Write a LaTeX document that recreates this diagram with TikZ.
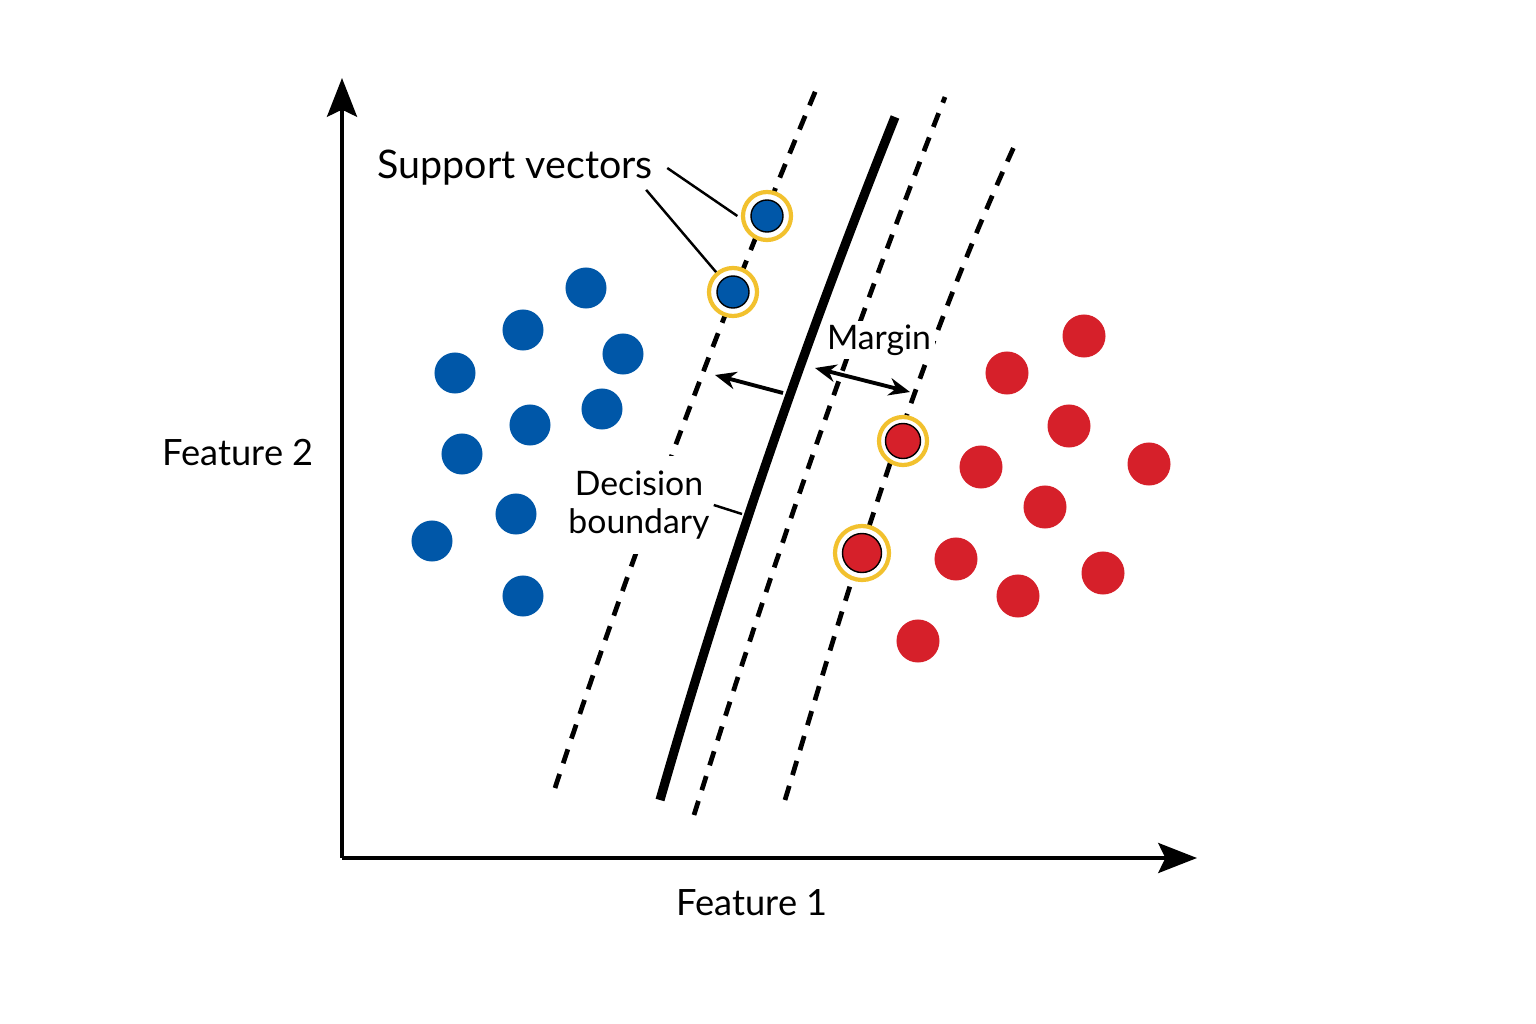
\documentclass[tikz,border=0pt]{standalone}
\usepackage{fontspec}
\setmainfont{Lato}
\usetikzlibrary{arrows.meta}
\definecolor{svmblue}{HTML}{0057A8}
\definecolor{svmred}{HTML}{D6202A}
\definecolor{svmgold}{HTML}{F2C12E}

\begin{document}
\begin{tikzpicture}[x=0.01cm, y=-0.01cm, >={Stealth[length=6pt,width=5pt]},
    blue dot/.style={circle, fill=svmblue, inner sep=0pt, minimum size=0.41cm},
    red dot/.style={circle, fill=svmred, inner sep=0pt, minimum size=0.43cm},
    sv blue/.style={circle, fill=svmblue, draw=black, thin, inner sep=0pt, minimum size=0.32cm},
    sv red/.style={circle, fill=svmred, draw=black, thin, inner sep=0pt, minimum size=0.35cm},
    ring/.style={circle, draw=svmgold, line width=1.2pt, fill=white, inner sep=0pt, minimum size=0.48cm},
    big ring/.style={ring, minimum size=0.54cm},
    axis/.style={line width=1.2pt, -{Stealth[length=11pt,width=8.5pt,inset=2pt]}},
    margin line/.style={line width=1.35pt, dash pattern=on 4.2pt off 3.2pt},
    boundary line/.style={line width=2.6pt},
    label/.style={font=\fontsize{10.3}{12}\selectfont, inner sep=1pt},
    sv label/.style={font=\fontsize{11.2}{13}\selectfont, inner sep=1pt},
    small label/.style={font=\fontsize{9.6}{11}\selectfont, fill=white, inner sep=1pt, align=center}]

    \useasboundingbox (0,0) rectangle (1536,1024);

    \coordinate (o) at (342,858);
    \coordinate (ytip) at (342,78);
    \coordinate (xtip) at (1197,858);
    \draw[axis] (o) -- (ytip);
    \draw[axis] (o) -- (xtip);

    \draw[margin line] (555,788) .. controls (612,615) and (700,367) .. (818,85);
    \draw[margin line] (694,815) .. controls (769,575) and (852,334) .. (945,97);
    \draw[margin line] (785,800) .. controls (832,645) and (906,381) .. (1018,138);
    \draw[boundary line] (660,800) .. controls (724,577) and (802,349) .. (895,117);

    \node[label] (f2) at (238,453) {Feature 2};
    \node[label] (f1) at (752,903) {Feature 1};
    \node[sv label] (sv) at (515,168) {Support vectors};
    \node[small label] (mg) at (879,340) {Margin};
    \node[small label, inner ysep=4pt] (db) at (639,505) {Decision\\boundary};

    \node[blue dot] (b1) at (586,288) {};
    \node[blue dot] (b2) at (523,330) {};
    \node[blue dot] (b3) at (455,373) {};
    \node[blue dot] (b4) at (623,354) {};
    \node[blue dot] (b5) at (530,425) {};
    \node[blue dot] (b6) at (602,409) {};
    \node[blue dot] (b7) at (462,454) {};
    \node[blue dot] (b8) at (516,514) {};
    \node[blue dot] (b9) at (432,541) {};
    \node[blue dot] (b10) at (523,596) {};

    \node[red dot] (r1) at (1084,336) {};
    \node[red dot] (r2) at (1007,373) {};
    \node[red dot] (r3) at (1069,426) {};
    \node[red dot] (r4) at (1149,464) {};
    \node[red dot] (r5) at (981,467) {};
    \node[red dot] (r6) at (1045,507) {};
    \node[red dot] (r7) at (956,559) {};
    \node[red dot] (r8) at (1103,573) {};
    \node[red dot] (r9) at (1018,596) {};
    \node[red dot] (r10) at (918,641) {};

    \node[ring] (s1) at (767,216) {};
    \node[ring] (s2) at (733,292) {};
    \node[ring] (s3) at (903,441) {};
    \node[big ring] (s4) at (862,553) {};
    \node[sv blue] at (s1) {};
    \node[sv blue] at (s2) {};
    \node[sv red] at (s3) {};
    \node[sv red, minimum size=0.39cm] at (s4) {};

    \coordinate (m1) at (815,368);
    \coordinate (m2) at (910,392);
    \coordinate (m3) at (783,393);
    \coordinate (m4) at (715,375);
    \coordinate (d1) at (742,514);

    \path[line width=0.7pt]
        ([xshift=3pt]sv.east) edge ([xshift=-1pt]s1.west)
        ([xshift=-3pt]sv.south east) edge (s2)
        (db.east) edge (d1);
    \draw[<->, line width=1.1pt] (m1) -- (m2);
    \draw[->, line width=1.1pt] (m3) -- (m4);
\end{tikzpicture}
\end{document}
